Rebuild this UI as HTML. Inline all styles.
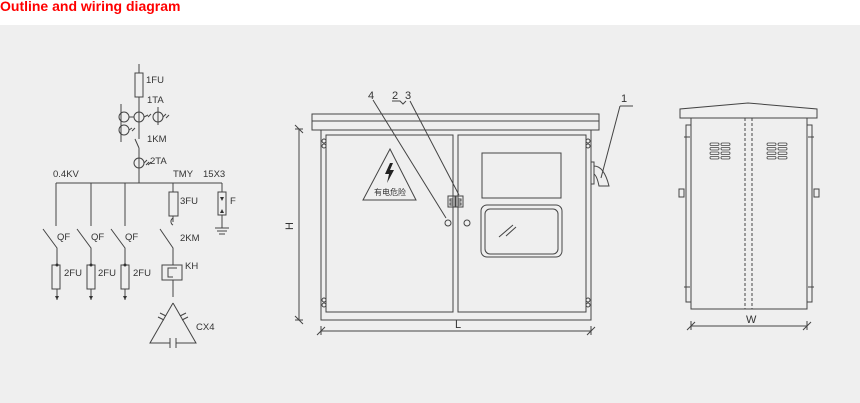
<!DOCTYPE html>
<html><head><meta charset="utf-8"><style>
body{margin:0;width:860px;height:403px;overflow:hidden;background:#fff;font-family:"Liberation Sans",Arial,sans-serif}
.t{position:absolute;left:0;top:-2px;color:#f00;font-weight:bold;font-size:14px}
svg{position:absolute;left:0;top:0}
</style></head><body>
<svg width="860" height="403" viewBox="0 0 860 403" font-family="Liberation Sans, Arial, sans-serif">
<rect x="0" y="25" width="860" height="378" fill="#efefef"/>
<g stroke="#444" stroke-width="1" fill="none">
<line x1="139" y1="64" x2="139" y2="139"/>
<rect x="135" y="73" width="8" height="24" fill="#efefef"/>
<line x1="121" y1="104" x2="121" y2="142"/>
<line x1="158" y1="107" x2="158" y2="125"/>
<circle cx="124" cy="117" r="5"/><circle cx="139" cy="117" r="5"/><circle cx="158" cy="117" r="5"/><circle cx="124" cy="130" r="5"/>
<path d="M129 117h5M144 117l4 -2M148 117l3-3M163 117l3-3M166 118l3-3M129 130l3-2M132 131l3-3"/>
<line x1="135" y1="139" x2="139" y2="148"/>
<line x1="139" y1="148" x2="139" y2="183"/>
<circle cx="139" cy="163" r="5"/><path d="M144 163l3-3M146 165l3-3M148 165l3-3"/>
<line x1="56" y1="183" x2="222" y2="183"/>
<line x1="56" y1="183" x2="56" y2="226"/><line x1="91" y1="183" x2="91" y2="226"/><line x1="125" y1="183" x2="125" y2="226"/>
<path d="M43 229L57 248V300M77 229L91 248V300M111 229L125 248V300"/>
<rect x="52" y="265" width="8" height="24" fill="#efefef"/><rect x="87" y="265" width="8" height="24" fill="#efefef"/><rect x="121" y="265" width="8" height="24" fill="#efefef"/>
<line x1="173" y1="183" x2="173" y2="222"/>
<rect x="169" y="192" width="9" height="24" fill="#efefef"/>
<path d="M173 218a4 4 0 0 0 0 7"/>
<path d="M160 229L173 248V265M173 280V297"/>
<rect x="162" y="265" width="20" height="15"/><path d="M177 268h-9v9h5"/>
<path d="M173 303L150 343H170M176 343H196L173 303"/>
<path d="M170 338v10M176 338v10"/>
<path d="M158 317l6 3M160 313l6 3M188 317l-6 3M186 313l-6 3"/>
<line x1="222" y1="183" x2="222" y2="228"/>
<rect x="218" y="192" width="8" height="23" fill="#efefef"/>
<path d="M215 228h14M217 231h10M219 234h6"/>
</g>
<path d="M57 300l-2-4h4zM91 300l-2-4h4zM125 300l-2-4h4zM222 201l-2-4h4zM222 209l-2 4h4z" fill="#333"/>
<circle cx="57" cy="265" r="1.5" fill="#333"/><circle cx="91" cy="265" r="1.5" fill="#333"/><circle cx="125" cy="265" r="1.5" fill="#333"/>
<g font-size="9.5" fill="#333">
<text x="146" y="83">1FU</text><text x="147" y="103">1TA</text><text x="147" y="142">1KM</text><text x="150" y="164">2TA</text>
<text x="53" y="177">0.4KV</text><text x="173" y="177">TMY</text><text x="203" y="177">15X3</text>
<text x="180" y="204">3FU</text><text x="230" y="204">F</text>
<text x="57" y="240">QF</text><text x="91" y="240">QF</text><text x="125" y="240">QF</text><text x="180" y="241">2KM</text>
<text x="64" y="276">2FU</text><text x="98" y="276">2FU</text><text x="133" y="276">2FU</text>
<text x="185" y="269">KH</text><text x="196" y="330">CX4</text>
</g>
<g stroke="#444" stroke-width="1" fill="none">
<rect x="312" y="114" width="287" height="16"/><line x1="312" y1="121" x2="599" y2="121"/>
<rect x="321" y="130" width="270" height="190"/>
<rect x="326" y="135" width="127" height="177"/><rect x="458" y="135" width="128" height="177"/>
<circle cx="324" cy="141" r="2"/><circle cx="324" cy="146" r="2"/><circle cx="324" cy="300" r="2"/><circle cx="324" cy="305" r="2"/>
<circle cx="588" cy="141" r="2"/><circle cx="588" cy="146" r="2"/><circle cx="588" cy="300" r="2"/><circle cx="588" cy="305" r="2"/>
<path d="M390 149L363 200H416Z"/>
<rect x="482" y="153" width="79" height="45"/>
<rect x="481" y="205" width="81" height="52" rx="6"/><rect x="485" y="209" width="73" height="45" rx="5"/>
<path d="M499 237l14-12M506 236l10-9"/>
<rect x="448" y="196" width="7" height="11"/><rect x="456" y="196" width="7" height="11"/>
<path d="M450 199h3v2h-3zM458 199h3v2h-3zM450 203h3v2h-3zM458 203h3v2h-3z"/>
<circle cx="448" cy="223" r="3"/><circle cx="467" cy="223" r="3"/>
<path d="M373 100L446 218M410 101L459 195M392 101h8l3 3 3-3M620 106h13M620 106L601 178"/>
<path d="M591 162h3v22h-3M594 166q10 0 15 20h-10q-2-10-5-12"/>
<line x1="299" y1="129" x2="299" y2="320"/><path d="M295 125l8 8M295 316l8 8M295 129h8M295 320h8"/>
<line x1="321" y1="331" x2="591" y2="331"/><path d="M321 326v9M591 326v9M317 335l8-8M587 335l8-8"/>
</g>
<path d="M390 163l-5 11h4l-2 9 7-13h-4l3-7z" fill="#222"/>
<text x="390" y="195" font-size="8" text-anchor="middle" fill="#333" font-family="Liberation Sans, Noto Sans CJK SC, sans-serif">有电危险</text>
<g font-size="11" fill="#333">
<text x="368" y="99">4</text><text x="392" y="99">2</text><text x="405" y="99">3</text><text x="621" y="102">1</text>
<text x="455" y="328">L</text>
<text x="293" y="226" transform="rotate(-90 293 226)" text-anchor="middle">H</text>
</g>
<g stroke="#444" stroke-width="1" fill="none">
<path d="M680 118V109L748 103L817 109V118Z"/>
<rect x="691" y="118" width="116" height="191"/>
<path d="M745 118V309M752 118V309" stroke-dasharray="3 2"/>
<rect x="686" y="125" width="5" height="177"/><rect x="807" y="125" width="5" height="177"/>
<rect x="679" y="189" width="5" height="8"/><rect x="814" y="189" width="5" height="8"/>
<path d="M684 137h6M684 287h6M808 137h6M808 287h6"/>
<g stroke-width="0.8">
<rect x="710" y="143" width="9" height="2.5" rx="1.2"/><rect x="721" y="143" width="9" height="2.5" rx="1.2"/>
<rect x="710" y="147.5" width="9" height="2.5" rx="1.2"/><rect x="721" y="147.5" width="9" height="2.5" rx="1.2"/>
<rect x="710" y="152" width="9" height="2.5" rx="1.2"/><rect x="721" y="152" width="9" height="2.5" rx="1.2"/>
<rect x="710" y="156.5" width="9" height="2.5" rx="1.2"/><rect x="721" y="156.5" width="9" height="2.5" rx="1.2"/>
<rect x="767" y="143" width="9" height="2.5" rx="1.2"/><rect x="778" y="143" width="9" height="2.5" rx="1.2"/>
<rect x="767" y="147.5" width="9" height="2.5" rx="1.2"/><rect x="778" y="147.5" width="9" height="2.5" rx="1.2"/>
<rect x="767" y="152" width="9" height="2.5" rx="1.2"/><rect x="778" y="152" width="9" height="2.5" rx="1.2"/>
<rect x="767" y="156.5" width="9" height="2.5" rx="1.2"/><rect x="778" y="156.5" width="9" height="2.5" rx="1.2"/>
</g>
<line x1="691" y1="326" x2="807" y2="326"/><path d="M691 321v9M807 321v9M687 330l8-8M803 330l8-8"/>
</g>
<text x="746" y="323" font-size="11" fill="#333">W</text>
</svg>
<div class="t">Outline and wiring diagram</div>
</body></html>
